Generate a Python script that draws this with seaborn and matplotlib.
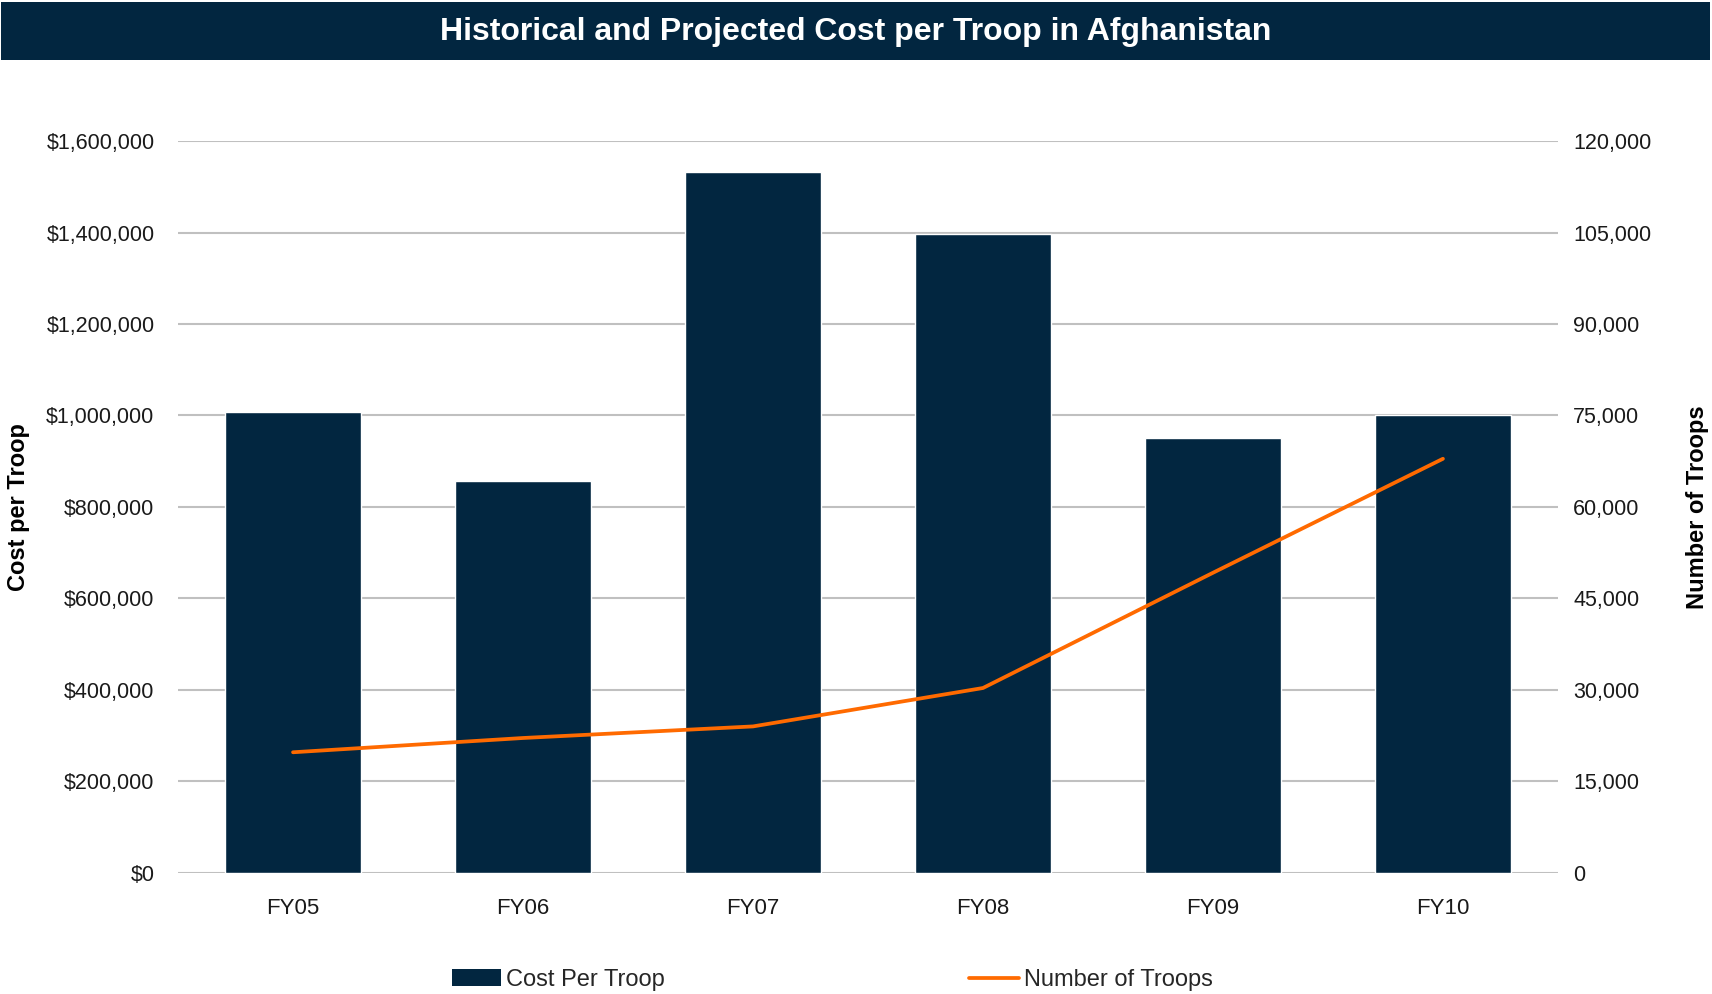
import matplotlib
matplotlib.use("Agg")
import matplotlib.pyplot as plt
import numpy as np
import pandas as pd
import seaborn as sns
from matplotlib.lines import Line2D
from matplotlib.patches import Patch, Rectangle
from matplotlib.ticker import FuncFormatter, MultipleLocator

years = ["FY05", "FY06", "FY07", "FY08", "FY09", "FY10"]
cost_per_troop = [1008000, 857000, 1533000, 1397000, 951000, 1000000]
num_troops = [19760, 22100, 24000, 30300, 49200, 67900]

NAVY = "#022640"
ORANGE = "#FF6A00"
GRID = "#C0C0C0"

sns.set_theme(style="white")
plt.rcParams["font.family"] = ["Liberation Sans", "DejaVu Sans"]

df = pd.DataFrame({"year": years, "cost": cost_per_troop, "troops": num_troops})
df["pos"] = np.arange(len(df))

fig = plt.figure(figsize=(17.12, 9.94), dpi=100)
ax = fig.add_axes([0.104, 0.122, 0.806, 0.736])

sns.barplot(data=df, x="year", y="cost", color=NAVY, saturation=1, width=0.59, ax=ax, zorder=2)
ax.set_xlim(-0.5, 5.5)
ax.set_ylim(0, 1600000)
ax.yaxis.set_major_locator(MultipleLocator(200000))
ax.yaxis.set_major_formatter(FuncFormatter(lambda v, p: f"${v:,.0f}"))
ax.grid(axis="y", color=GRID, linewidth=1.5, zorder=0)
ax.set_axisbelow(True)
for s in ax.spines.values():
    s.set_visible(False)
ax.tick_params(axis="y", length=0, pad=17, labelsize=15.5, labelcolor="#1a1a1a")
ax.tick_params(axis="x", length=0, pad=18, labelsize=16, labelcolor="#1a1a1a")
ax.set_xlabel("")
ax.set_ylabel("")

# troop numbers on the secondary axis
ax2 = ax.twinx()
sns.lineplot(data=df, x="pos", y="troops", color=ORANGE, linewidth=2.7, ax=ax2, zorder=3)
ax2.set_ylim(0, 120000)
ax2.yaxis.set_major_locator(MultipleLocator(15000))
ax2.yaxis.set_major_formatter(FuncFormatter(lambda v, p: f"{v:,.0f}"))
for s in ax2.spines.values():
    s.set_visible(False)
ax2.tick_params(axis="y", length=0, pad=11, labelsize=15.5, labelcolor="#1a1a1a")
ax2.set_ylabel("")
ax2.set_xlabel("")
ax2.grid(False)
ax.set_xlim(-0.5, 5.5)

fig.text(0.004, 0.49, "Cost per Troop", rotation=90, ha="left", va="center",
         fontsize=17, fontweight="bold", color="black")
fig.text(0.998, 0.49, "Number of Troops", rotation=90, ha="right", va="center",
         fontsize=17, fontweight="bold", color="black")

# title banner
fig.patches.append(Rectangle((0.0006, 0.9396), 0.998, 0.0582, transform=fig.transFigure,
                             facecolor=NAVY, edgecolor="none", zorder=0))
fig.text(0.5, 0.968, "Historical and Projected Cost per Troop in Afghanistan",
         ha="center", va="center", fontsize=23, fontweight="bold", color="white")

handles = [Patch(facecolor=NAVY, edgecolor="none", label="Cost Per Troop"),
           Line2D([0], [0], color=ORANGE, linewidth=2.7, label="Number of Troops")]
fig.legend(handles=handles, loc="center", bbox_to_anchor=(0.486, 0.014), ncol=2,
           frameon=False, fontsize=17, handlelength=2.1, handletextpad=0.2,
           columnspacing=12.9, handleheight=0.75, borderpad=0)

fig.savefig("out.png", dpi=100)
